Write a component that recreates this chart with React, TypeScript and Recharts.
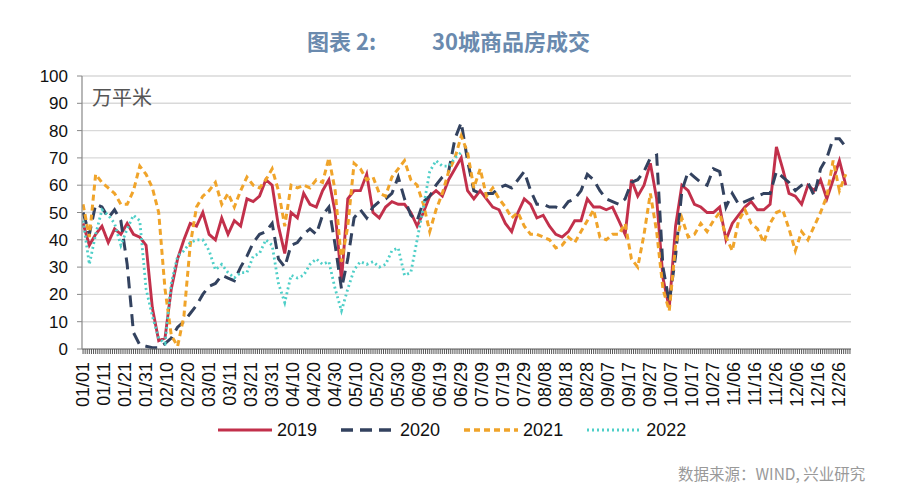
import React from "react";
import { LineChart, Line, XAxis, YAxis, CartesianGrid } from "recharts";

// one point every 3 days, x axis is day-of-year (leap-year calendar, 366 days)
const DAY_STEP = 3;

const TICK_LABELS = [
  "01/01", "01/11", "01/21", "01/31", "02/10", "02/20", "03/01", "03/11", "03/21", "03/31",
  "04/10", "04/20", "04/30", "05/10", "05/20", "05/30", "06/09", "06/19", "06/29", "07/09",
  "07/19", "07/29", "08/08", "08/18", "08/28", "09/07", "09/17", "09/27", "10/07", "10/17",
  "10/27", "11/06", "11/16", "11/26", "12/06", "12/16", "12/26",
];

const Y_TICKS = [0, 10, 20, 30, 40, 50, 60, 70, 80, 90, 100];

const sales2019 = [
  46, 38, 42, 45, 39, 44, 42, 46, 42, 41,
  38, 15, 3, 4, 22, 33, 40, 46, 45, 50,
  42, 40, 48, 42, 47, 45, 55, 54, 56, 62,
  60, 45, 35, 50, 48, 57, 53, 52, 58, 62,
  50, 25, 55, 58, 58, 64, 50, 48, 52, 54,
  53, 53, 50, 45, 50, 56, 58, 56, 62, 66,
  70, 58, 55, 58, 55, 52, 51, 46, 43, 50,
  55, 53, 48, 49, 45, 42, 41, 43, 47, 47,
  55, 52, 52, 51, 52, 47, 42, 62, 56, 60,
  68, 55, 26, 15, 45, 60, 58, 53, 52, 50,
  50, 52, 40, 46, 49, 52, 54, 51, 51, 53,
  74, 66, 57, 56, 53, 60, 58, 62, 55, 62,
  69, 60,
];

const sales2020 = [
  50, 42, 53, 52, 48, 51, 47, 31, 6, 1.5,
  1, 0.5, 0.5, 2, 4, 8, 10, 13, 16, 20,
  23, 24, 27, 26, 25, 30, 34, 39, 42, 43,
  46, 33, 30, 38, 39, 42, 44, 42, 49, 52,
  38, 22, 33, 48, 51, 48, 52, 54, 55, 57,
  63, 55, 49, 47, 54, 56, 60, 63, 65, 77,
  83, 69, 58, 57, 57, 57, 59, 60, 59, 62,
  65, 58, 53, 53, 52, 52, 51, 54, 55, 58,
  64, 62, 58, 55, 54, 53, 55, 61, 62, 65,
  70, 71, 30, 17, 34, 58, 65, 63, 61, 60,
  66, 65, 52, 57, 53, 54, 55, 56, 57, 57,
  65, 63, 61, 58, 60, 61, 56, 66, 70, 77,
  77, 74,
];

const sales2021 = [
  53, 41, 64, 61, 59, 57, 53, 53, 58, 67,
  64, 59, 50, 22, 5, 1, 12, 38, 52, 56,
  58, 61, 53, 57, 52, 58, 63, 60, 59, 62,
  66, 58, 45, 60, 59, 60, 59, 62, 61, 70,
  58, 32, 45, 68, 66, 62, 63, 57, 56, 63,
  66, 69, 62, 60, 53, 43, 51, 57, 65, 70,
  78, 72, 59, 66, 56, 59, 55, 52, 48, 50,
  45, 42, 42, 41, 40, 37, 38, 41, 39, 43,
  47, 51, 41, 40, 42, 42, 46, 33, 30, 42,
  57, 43, 22, 14, 38, 48, 41, 42, 46, 43,
  47, 50, 41, 36, 47, 51, 46, 44, 39, 46,
  50, 51, 44, 36, 43, 40, 45, 50, 56, 69,
  58, 64,
];

const sales2022 = [
  47, 31, 42, 51, 49, 46, 38, 44, 49, 47,
  22, 12, 4, 2, 24, 34, 36, 39, 40, 40,
  36, 29, 31, 28, 26, 28, 28, 34, 35, 40,
  38, 24, 17, 27, 26, 27, 31, 33, 31, 32,
  22, 14, 22, 29, 32, 31, 32, 30, 31, 36,
  37, 27, 28, 40, 52, 65, 69, 67, 67, 70,
  72,
];

const SERIES = [
  { key: "y2019", name: "2019", color: "#c2304b", dash: undefined, width: 2.9 },
  { key: "y2020", name: "2020", color: "#33425f", dash: "12 7", width: 3 },
  { key: "y2021", name: "2021", color: "#f0a42a", dash: "6 4", width: 3 },
  { key: "y2022", name: "2022", color: "#4fcfc8", dash: "2 3", width: 2.8 },
];

const data = sales2019.map((v, i) => ({
  day: i * DAY_STEP,
  y2019: v,
  y2020: sales2020[i],
  y2021: sales2021[i],
  y2022: i < sales2022.length ? sales2022[i] : null,
}));

// a tick mark for every day, a label every 10 days
const ALL_DAYS = Array.from({ length: 366 }, (_, d) => d);

const NUM_FONT = "'Liberation Sans', Arial, sans-serif";
const CJK_FONT = "'Noto Sans CJK SC', 'Noto Sans', sans-serif";

function DateTick(props: any) {
  const { x, y, payload } = props;
  const d = payload.value as number;
  if (d % 10 !== 0 || d / 10 >= TICK_LABELS.length) return null;
  return (
    <text
      transform={`translate(${x},${y}) rotate(-90)`}
      textAnchor="end"
      dominantBaseline="central"
      fontSize={18}
      fontFamily={NUM_FONT}
      fill="#111"
    >
      {TICK_LABELS[d / 10]}
    </text>
  );
}

function LegendItem({ name, color, dash, width }: (typeof SERIES)[number]) {
  return (
    <div style={{ display: "flex", alignItems: "center", marginRight: 24 }}>
      <svg width={54} height={10}>
        <line x1={0} y1={5} x2={54} y2={5} stroke={color} strokeWidth={width + 0.3} strokeDasharray={dash} />
      </svg>
      <span style={{ marginLeft: 5, fontSize: 18, fontFamily: NUM_FONT, color: "#111" }}>{name}</span>
    </div>
  );
}

export default function App() {
  return (
    <div
      style={{
        position: "absolute",
        left: 0,
        top: 0,
        width: 900,
        height: 493,
        background: "#fff",
        overflow: "hidden",
      }}
    >
      <div
        style={{
          position: "absolute",
          left: 307,
          top: 25,
          fontSize: 22,
          lineHeight: "30px",
          fontWeight: 700,
          color: "#6a8aae",
          fontFamily: CJK_FONT,
        }}
      >
        图表 2:
      </div>
      <div
        style={{
          position: "absolute",
          left: 432,
          top: 25,
          fontSize: 22,
          lineHeight: "30px",
          fontWeight: 700,
          color: "#6a8aae",
          fontFamily: CJK_FONT,
        }}
      >
        30城商品房成交
      </div>

      <LineChart
        width={900}
        height={493}
        data={data}
        margin={{ top: 76, right: 49, bottom: 0, left: 0 }}
        style={{ position: "absolute", left: 0, top: 0 }}
      >
        <CartesianGrid vertical={false} stroke="#d9d9d9" strokeWidth={1.4} />
        <XAxis
          dataKey="day"
          type="number"
          domain={[-0.5, 365.5]}
          ticks={ALL_DAYS}
          interval={0}
          height={144}
          tickSize={5}
          tickMargin={8}
          tickLine={{ stroke: "#555" }}
          axisLine={{ stroke: "#777", strokeWidth: 1.2 }}
          tick={<DateTick />}
          allowDataOverflow
        />
        <YAxis
          type="number"
          domain={[0, 100]}
          ticks={Y_TICKS}
          interval={0}
          width={82}
          tickSize={5}
          tickMargin={9}
          tickLine={{ stroke: "#888" }}
          axisLine={{ stroke: "#888", strokeWidth: 1.2 }}
          tick={{ fontSize: 17, fill: "#111", fontFamily: NUM_FONT }}
        />
        {SERIES.map((s) => (
          <Line
            key={s.key}
            type="linear"
            dataKey={s.key}
            name={s.name}
            stroke={s.color}
            strokeWidth={s.width}
            strokeDasharray={s.dash}
            dot={false}
            activeDot={false}
            connectNulls={false}
            isAnimationActive={false}
          />
        ))}
      </LineChart>

      <div
        style={{
          position: "absolute",
          left: 92,
          top: 84,
          fontSize: 20,
          lineHeight: "26px",
          color: "#555",
          fontFamily: CJK_FONT,
        }}
      >
        万平米
      </div>

      <div
        style={{
          position: "absolute",
          left: 218,
          top: 418,
          height: 24,
          display: "flex",
          alignItems: "center",
        }}
      >
        {SERIES.map((s) => (
          <LegendItem key={s.key} {...s} />
        ))}
      </div>

      <div
        style={{
          position: "absolute",
          left: 678,
          top: 462,
          fontSize: 15.5,
          lineHeight: "22px",
          color: "#999",
          fontFamily: CJK_FONT,
        }}
      >
        数据来源：WIND, 兴业研究
      </div>
    </div>
  );
}
